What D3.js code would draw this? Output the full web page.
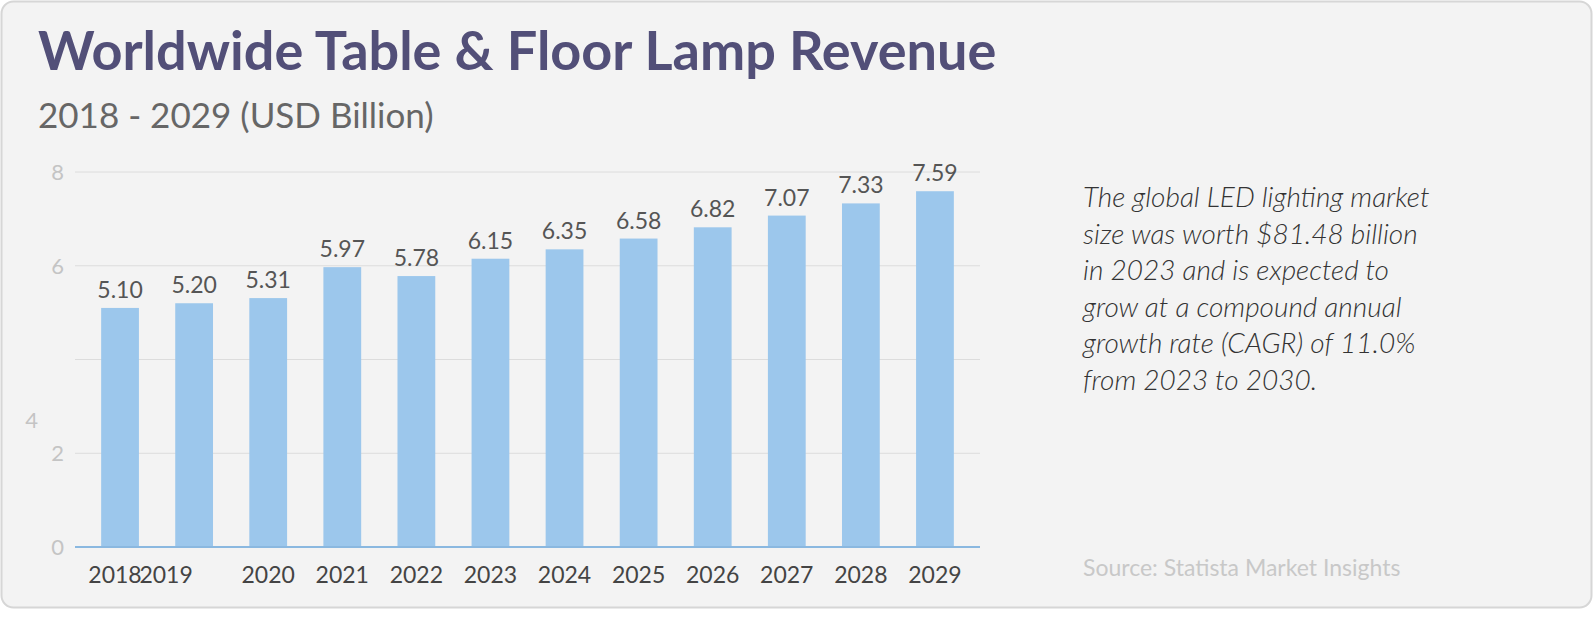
<!DOCTYPE html>
<html>
<head>
<meta charset="utf-8">
<script src="https://cdn.jsdelivr.net/npm/d3@7"></script>
<style>
  body { margin: 0; background: #fff; font-family: Lato, sans-serif; }
</style>
</head>
<body>
<svg id="chart" width="1593" height="621"></svg>
<script>
// chart data
const years = ["2018","2019","2020","2021","2022","2023","2024","2025","2026","2027","2028","2029"];
const revenue = [5.10, 5.20, 5.31, 5.97, 5.78, 6.15, 6.35, 6.58, 6.82, 7.07, 7.33, 7.59];
const yTicks = [0, 2, 4, 6, 8];
const noteLines = [
  "The global LED lighting market",
  "size was worth $81.48 billion",
  "in 2023 and is expected to",
  "grow at a compound annual",
  "growth rate (CAGR) of 11.0%",
  "from 2023 to 2030."
];

var svg = d3.select("#chart");

// card background
svg.append("rect")
  .attr("x", 1.5).attr("y", 1.5).attr("width", 1590).attr("height", 606)
  .attr("rx", 12).attr("fill", "#f3f3f3").attr("stroke", "#d6d6d6").attr("stroke-width", 2);

svg.append("text").attr("x", 38).attr("y", 70)
  .attr("font-size", 54).attr("font-weight", 700).attr("fill", "#524f78")
  .text("Worldwide Table & Floor Lamp Revenue");
svg.append("text").attr("x", 38).attr("y", 128)
  .attr("font-size", 35).attr("fill", "#666")
  .text("2018 - 2029 (USD Billion)");

var x = d3.scaleBand().domain(years).range([83, 972]).paddingInner(0.49).paddingOuter(0.245);
var y = d3.scaleLinear().domain([0, 8]).range([547, 172]);

// gridlines
svg.append("g").selectAll("line").data(yTicks.slice(1)).join("line")
  .attr("x1", 75).attr("x2", 980)
  .attr("y1", d => y(d)).attr("y2", d => y(d))
  .attr("stroke", "#dcdcdc").attr("stroke-width", 1);

// y tick labels (the "4" sits oddly low/left in the original)
svg.append("g").selectAll("text").data(yTicks).join("text")
  .attr("x", d => d === 4 ? 38 : 64)
  .attr("y", d => d === 4 ? y(d) + 68 : y(d) + 8)
  .attr("text-anchor", "end").attr("font-size", 22).attr("fill", "#c4c4c4")
  .text(d => d);

// bars
svg.append("g").selectAll("rect").data(revenue).join("rect")
  .attr("x", (d, i) => x(years[i]))
  .attr("y", d => y(d))
  .attr("width", x.bandwidth())
  .attr("height", d => y(0) - y(d))
  .attr("fill", "#9cc7ec");

// value labels
svg.append("g").selectAll("text").data(revenue).join("text")
  .attr("x", (d, i) => x(years[i]) + x.bandwidth() / 2)
  .attr("y", d => y(d) - 10)
  .attr("text-anchor", "middle").attr("font-size", 23).attr("fill", "#555")
  .text(d => d.toFixed(2));

// x axis
svg.append("line").attr("x1", 75).attr("x2", 980).attr("y1", y(0)).attr("y2", y(0))
  .attr("stroke", "#8ab8e0").attr("stroke-width", 2);
var xShift = {"2018": -5, "2019": -28};
svg.append("g").selectAll("text").data(years).join("text")
  .attr("x", d => x(d) + x.bandwidth() / 2 + (xShift[d] || 0))
  .attr("y", 583)
  .attr("text-anchor", "middle").attr("font-size", 23).attr("fill", "#444")
  .text(d => d);

// side note
svg.append("text").attr("x", 1083).attr("y", 207)
  .attr("font-size", 28).attr("font-style", "italic").attr("font-weight", 300).attr("fill", "#333")
  .selectAll("tspan").data(noteLines).join("tspan")
  .attr("x", 1083).attr("dy", (d, i) => i ? 36.6 : 0)
  .text(d => d);

svg.append("text").attr("x", 1083).attr("y", 576)
  .attr("font-size", 23).attr("fill", "#c8c8c8")
  .text("Source: Statista Market Insights");
</script>
</body>
</html>
